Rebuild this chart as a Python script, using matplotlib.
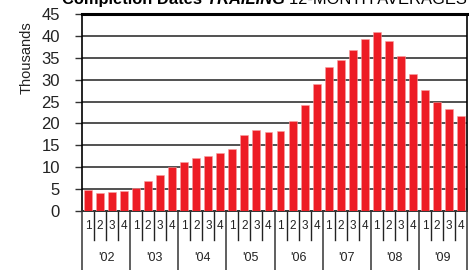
import numpy as np
import matplotlib
matplotlib.use("Agg")
import matplotlib.pyplot as plt

# Completion dates, trailing 12-month averages (thousands), by quarter
years = ["'02", "'03", "'04", "'05", "'06", "'07", "'08", "'09"]
quarters = ["1", "2", "3", "4"]
values = [4.7, 4.0, 4.35, 4.5,
          5.3, 6.8, 8.25, 10.15,
          11.2, 12.0, 12.5, 13.2,
          14.1, 17.4, 18.4, 17.95,
          18.25, 20.45, 24.3, 29.1,
          32.8, 34.6, 36.75, 39.25,
          40.9, 38.9, 35.3, 31.4,
          27.7, 25.0, 23.3, 21.75]
yticks = [0, 5, 10, 15, 20, 25, 30, 35, 40, 45]

plt.rcParams['font.family'] = ['Liberation Sans Narrow', 'Liberation Sans', 'DejaVu Sans']

W, H = 473, 270
fig = plt.figure(figsize=(W / 100, H / 100), dpi=100)
ax = fig.add_axes([82 / W, (H - 211) / H, (467 - 82) / W, (211 - 14) / H])

n = len(values)
x = np.arange(n) + 0.5
ax.bar(x, values, width=0.66, color='#ED1C24', edgecolor='#F7A0A0',
       linewidth=0.4, zorder=3)

ax.set_xlim(0, n)
ax.set_ylim(0, 45)
ax.set_yticks(yticks)
ax.set_yticklabels([str(t) for t in yticks], fontsize=12, color='#222222')
ax.tick_params(axis='y', length=5, width=1, color='#333333', pad=11)
ax.set_xticks([])

for t in yticks[1:-1]:
    ax.axhline(t, color='#333333', linewidth=1.2, zorder=1)

ax.spines['top'].set_linewidth(2.2)
ax.spines['top'].set_color('black')
ax.spines['right'].set_linewidth(1.2)
ax.spines['left'].set_linewidth(1.2)
ax.spines['bottom'].set_linewidth(1.4)
ax.spines['bottom'].set_color('#333333')

# category axis below the plot
trans = ax.get_xaxis_transform()
q_bottom = -29 / 197
y_bottom = -60 / 197
for k in range(n + 1):
    if k % 4 == 0:
        ax.plot([k, k], [0, y_bottom], color='#444444', linewidth=1.2,
                transform=trans, clip_on=False)
    else:
        ax.plot([k, k], [0, q_bottom], color='#222222', linewidth=1.0,
                transform=trans, clip_on=False)
for i in range(n):
    ax.text(i + 0.5, -15 / 197, quarters[i % 4], transform=trans,
            ha='center', va='center', fontsize=8.5, color='#222222')
for j, yr in enumerate(years):
    ax.text(j * 4 + 2, -47 / 197, yr, transform=trans,
            ha='center', va='center', fontsize=9, color='#222222')

fig.text(27 / W, 1 - 58 / H, 'Thousands', rotation=90, ha='center',
         va='center', fontsize=10.5, color='#222222')

# title, partly cut at the top like the source; scaled to span x 62..465
renderer = fig.canvas.get_renderer()
parts = [("Completion Dates ", 'bold', 'normal'),
         ("TRAILING ", 'bold', 'italic'),
         ("12-MONTH AVERAGES", 'normal', 'normal')]
size = 13
total = 0
for s, w, st in parts:
    t = fig.text(0, 0, s, fontsize=size, fontweight=w, fontstyle=st)
    total += t.get_window_extent(renderer).width
    t.remove()
size = size * (465 - 62) / total
xpos = 62
for s, w, st in parts:
    t = fig.text(xpos / W, 1 - 4 / H, s, fontsize=size, fontweight=w,
                 fontstyle=st, ha='left', va='baseline', color='black')
    xpos += t.get_window_extent(renderer).width

fig.savefig('out.png', dpi=100)
